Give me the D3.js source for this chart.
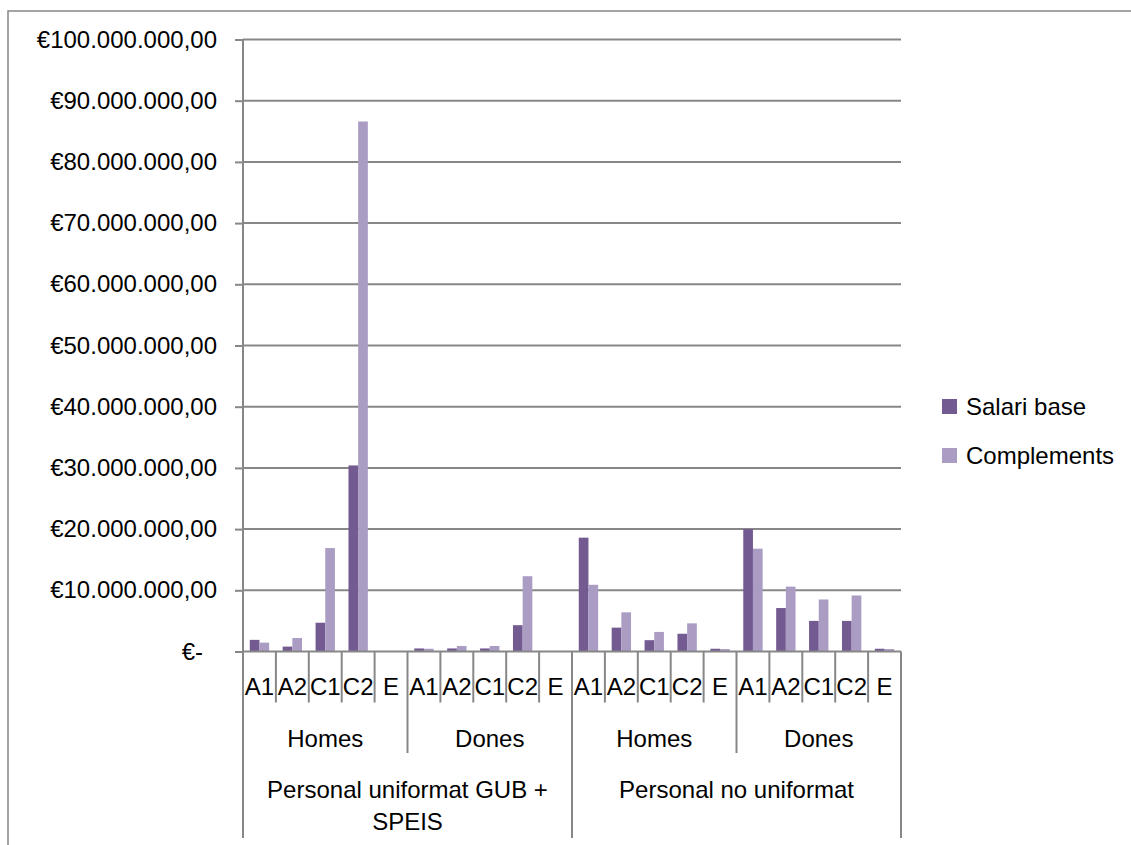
<!DOCTYPE html>
<html>
<head>
<meta charset="utf-8">
<script src="https://cdn.jsdelivr.net/npm/d3@7"></script>
<style>
  body { margin: 0; background: #fff; }
  svg text { font-family: "Liberation Sans", Arial, sans-serif; fill: #000; }
</style>
</head>
<body>
<svg id="chart" width="1131" height="845"></svg>
<script>
// Salari base vs complements per grup / sexe / categoria
const groups = ["Personal uniformat GUB + SPEIS", "Personal no uniformat"];
const groupLines = [["Personal uniformat GUB +", "SPEIS"], ["Personal no uniformat"]];
const sexes = ["Homes", "Dones"];
const grades = ["A1", "A2", "C1", "C2", "E"];
const seriesNames = ["Salari base", "Complements"];
const colors = ["#735a91", "#aa9cc3"];

const salariBase = [
  1900000, 800000, 4700000, 30400000, 0,
  500000, 500000, 500000, 4300000, 0,
  18600000, 3900000, 1850000, 2900000, 450000,
  20000000, 7100000, 5000000, 5000000, 450000
];
const complements = [
  1450000, 2200000, 16900000, 86600000, 0,
  450000, 900000, 900000, 12300000, 0,
  10900000, 6400000, 3200000, 4600000, 400000,
  16800000, 10600000, 8500000, 9150000, 400000
];
const yTicks = [0, 10e6, 20e6, 30e6, 40e6, 50e6, 60e6, 70e6, 80e6, 90e6, 100e6];

const categories = groups.flatMap((g, gi) => sexes.flatMap((s, si) => grades.map(gr => ({
  group: g, gi, sex: s, si, grade: gr
}))));
categories.forEach((c, i) => {
  c.i = i;
  c.values = [salariBase[i], complements[i]];
});

const plotLeft = 243, plotRight = 901, plotTop = 39.5, plotBase = 651.5, axisBottom = 838;
const axisColor = "#878787";
const fontSize = 24;

const svg = d3.select("#chart");

// outer chart border (cut at bottom/right)
svg.append("path")
  .attr("d", "M8,845 V11 H1131")
  .attr("fill", "none")
  .attr("stroke", axisColor)
  .attr("stroke-width", 1.5);

const x0 = d3.scaleBand().domain(d3.range(categories.length)).range([plotLeft, plotRight]);
const x1 = d3.scaleBand().domain(seriesNames).range([0, x0.bandwidth()]).paddingOuter(0.7);
const y = d3.scaleLinear().domain([0, 100e6]).range([plotBase, plotTop]);

const locale = d3.formatLocale({ decimal: ",", thousands: ".", grouping: [3], currency: ["€", ""] });
const fmt = locale.format("$,.2f");

// gridlines
svg.append("g").selectAll("line")
  .data(yTicks.filter(d => d > 0)).enter().append("line")
  .attr("x1", plotLeft).attr("x2", plotRight)
  .attr("y1", d => y(d)).attr("y2", d => y(d))
  .attr("stroke", axisColor).attr("stroke-width", 2);

// y axis
const yAxis = svg.append("g")
  .attr("transform", `translate(${plotLeft},0)`)
  .call(d3.axisLeft(y).tickValues(yTicks).tickSize(8).tickPadding(18)
    .tickFormat(d => d === 0 ? "€-" : fmt(d)));
yAxis.select(".domain").remove();
yAxis.selectAll(".tick line").attr("stroke", axisColor).attr("stroke-width", 2);
yAxis.selectAll(".tick text").attr("font-size", fontSize)
  .attr("font-family", "Liberation Sans, Arial, sans-serif")
  .attr("fill", "#000")
  .attr("dx", d => d === 0 ? -14 : 0);

// bars
const cat = svg.append("g").selectAll("g")
  .data(categories).enter().append("g")
  .attr("transform", d => `translate(${x0(d.i)},0)`);
cat.selectAll("rect")
  .data(d => d.values.map((v, k) => ({ v, k })))
  .enter().append("rect")
  .attr("x", d => x1(seriesNames[d.k]))
  .attr("width", x1.bandwidth())
  .attr("y", d => y(d.v))
  .attr("height", d => plotBase - y(d.v))
  .attr("fill", d => colors[d.k]);

// axis lines
svg.append("line").attr("x1", plotLeft).attr("x2", plotLeft).attr("y1", plotTop).attr("y2", axisBottom)
  .attr("stroke", axisColor).attr("stroke-width", 2);
svg.append("line").attr("x1", plotLeft).attr("x2", plotRight).attr("y1", plotBase).attr("y2", plotBase)
  .attr("stroke", axisColor).attr("stroke-width", 2);

// multi-level category separators
const n = categories.length;
svg.append("g").selectAll("line")
  .data(d3.range(n + 1)).enter().append("line")
  .attr("x1", i => i === n ? plotRight : x0(i))
  .attr("x2", i => i === n ? plotRight : x0(i))
  .attr("y1", plotBase)
  .attr("y2", i => i % 10 === 0 ? axisBottom : i % 5 === 0 ? 753 : 702.5)
  .attr("stroke", axisColor).attr("stroke-width", 2);

// grade labels
svg.append("g").selectAll("text")
  .data(categories).enter().append("text")
  .attr("x", d => x0(d.i) + x0.bandwidth() / 2)
  .attr("y", 695)
  .attr("text-anchor", "middle")
  .attr("font-size", fontSize)
  .text(d => d.grade);

// sex labels
const sexCells = categories.filter((d, i) => i % 5 === 0);
svg.append("g").selectAll("text")
  .data(sexCells).enter().append("text")
  .attr("x", d => (x0(d.i) + x0(d.i + 4) + x0.bandwidth()) / 2)
  .attr("y", 747)
  .attr("text-anchor", "middle")
  .attr("font-size", fontSize)
  .text(d => d.sex);

// group labels
const groupCells = categories.filter((d, i) => i % 10 === 0);
const gt = svg.append("g").selectAll("text")
  .data(groupCells).enter().append("text")
  .attr("text-anchor", "middle")
  .attr("font-size", fontSize);
gt.selectAll("tspan")
  .data(d => groupLines[d.gi].map((t, li) => ({ t, li, cx: (x0(d.i) + x0(d.i + 9) + x0.bandwidth()) / 2 })))
  .enter().append("tspan")
  .attr("x", d => d.cx)
  .attr("y", d => 798 + d.li * 32)
  .text(d => d.t);

// legend
const legend = svg.append("g").selectAll("g")
  .data(seriesNames).enter().append("g")
  .attr("transform", (d, i) => `translate(942,${399 + i * 49})`);
legend.append("rect")
  .attr("width", 15).attr("height", 15)
  .attr("fill", (d, i) => colors[i]);
legend.append("text")
  .attr("x", 24).attr("y", 7.5)
  .attr("dy", "0.35em")
  .attr("font-size", fontSize)
  .text(d => d);
</script>
</body>
</html>
